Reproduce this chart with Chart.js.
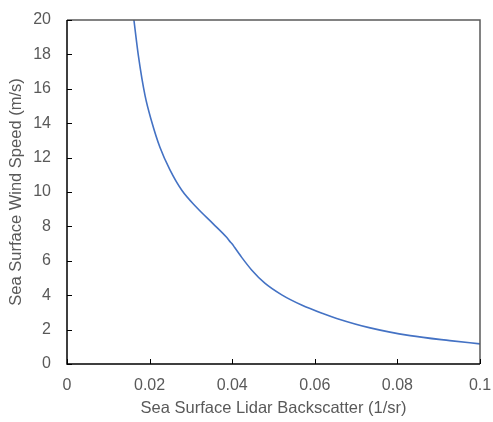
<!DOCTYPE html>
<html>
<head>
<meta charset="utf-8">
<script src="https://cdn.jsdelivr.net/npm/chart.js@4"></script>
<style>
html,body{margin:0;padding:0;background:#fff;}
#wrap{width:493px;height:422px;}
</style>
</head>
<body>
<div id="wrap"><canvas id="c" width="493" height="422"></canvas></div>
<script>
const backscatter = [0.0162, 0.0173, 0.0189, 0.0205, 0.0225, 0.0249, 0.0278, 0.0314, 0.0354, 0.0387, 0.0396, 0.0400, 0.0404, 0.0423, 0.0447, 0.0479, 0.0520, 0.0568, 0.0621, 0.0653, 0.0734, 0.0831, 0.0927, 0.1000];
const windSpeed   = [20.0,   17.9,   15.6,   14.1,   12.6,   11.3,   10.1,   9.1,    8.15,   7.35,   7.08,   6.98,   6.84,   6.2,    5.47,   4.7,    4.02,   3.43,   2.92,   2.65,   2.1,    1.65,   1.36,   1.17];
const xTicks = [0, 0.02, 0.04, 0.06, 0.08, 0.1];
const yTicks = [0, 2, 4, 6, 8, 10, 12, 14, 16, 18, 20];
const xTitle = 'Sea Surface Lidar Backscatter (1/sr)';
const yTitle = 'Sea Surface Wind Speed (m/s)';

const points = backscatter.map((x, i) => ({x: x, y: windSpeed[i]}));
const FONT = "'Liberation Sans', Arial, sans-serif";

const frame = {
  id: 'frame',
  afterDatasetsDraw(chart) {
    const {ctx, chartArea: a, scales} = chart;
    ctx.save();
    ctx.strokeStyle = '#595959';
    ctx.lineWidth = 1.5;
    ctx.beginPath();
    ctx.moveTo(a.left, a.top); ctx.lineTo(a.right, a.top); ctx.lineTo(a.right, a.bottom);
    ctx.stroke();
    ctx.strokeStyle = '#000';
    ctx.lineWidth = 1.5;
    ctx.beginPath();
    ctx.moveTo(a.left, a.top); ctx.lineTo(a.left, a.bottom); ctx.lineTo(a.right, a.bottom);
    ctx.stroke();
    ctx.lineWidth = 1;
    ctx.strokeStyle = '#000';
    ctx.beginPath();
    scales.x.ticks.forEach((t, i) => {
      const px = Math.round(scales.x.getPixelForTick(i)) + 0.5;
      ctx.moveTo(px, a.bottom); ctx.lineTo(px, a.bottom - 5);
    });
    scales.y.ticks.forEach((t, i) => {
      const py = Math.round(scales.y.getPixelForTick(i)) + 0.5;
      ctx.moveTo(a.left, py); ctx.lineTo(a.left + 5, py);
    });
    ctx.stroke();
    ctx.restore();
  }
};

new Chart(document.getElementById('c'), {
  type: 'scatter',
  data: {
    datasets: [{
      data: points,
      showLine: true,
      borderColor: '#4472C4',
      borderWidth: 1.6,
      pointRadius: 0,
      cubicInterpolationMode: 'monotone',
      fill: false
    }]
  },
  options: {
    responsive: false,
    animation: false,
    layout: {padding: {left: 0, right: 13, top: 20, bottom: 0}},
    plugins: {legend: {display: false}, tooltip: {enabled: false}},
    scales: {
      x: {
        type: 'linear', min: 0, max: 0.1,
        afterBuildTicks: s => { s.ticks = xTicks.map(v => ({value: v})); },
        afterFit: s => { s.height = 58; s.paddingLeft = 0; s.paddingRight = 0; },
        grid: {display: false, drawTicks: false},
        border: {display: false},
        ticks: {color: '#595959', font: {family: FONT, size: 16}, padding: 12,
                callback: v => String(v)},
        title: {display: true, text: xTitle, color: '#595959', font: {family: FONT, size: 16.5}, padding: {top: 3}}
      },
      y: {
        type: 'linear', min: 0, max: 20,
        afterBuildTicks: s => { s.ticks = yTicks.map(v => ({value: v})); },
        afterFit: s => { s.width = 67; s.paddingTop = 0; s.paddingBottom = 0; },
        grid: {display: false, drawTicks: false},
        border: {display: false},
        ticks: {color: '#595959', font: {family: FONT, size: 16}, padding: 16,
                callback: v => String(v)},
        title: {display: true, text: yTitle, color: '#595959', font: {family: FONT, size: 16.5}, padding: {top: 7, bottom: 0}}
      }
    }
  },
  plugins: [frame]
});
</script>
</body>
</html>
